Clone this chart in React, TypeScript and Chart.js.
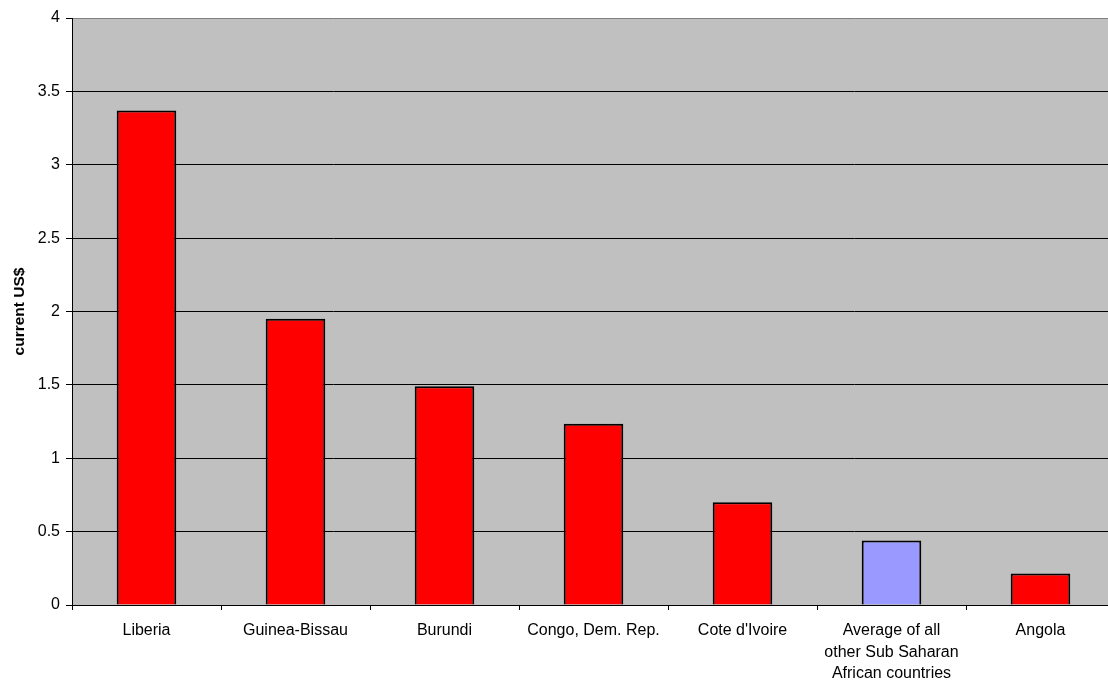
import React, { useEffect, useRef } from "react";
import { Chart, registerables } from "chart.js";

Chart.register(...registerables);

const categories: (string | string[])[] = [
  "Liberia",
  "Guinea-Bissau",
  "Burundi",
  "Congo, Dem. Rep.",
  "Cote d'Ivoire",
  ["Average of all", "other Sub Saharan", "African countries"],
  "Angola",
];
const values: number[] = [3.37, 1.95, 1.49, 1.235, 0.70, 0.44, 0.215];
const barColors: string[] = ["#FF0000", "#FF0000", "#FF0000", "#FF0000", "#FF0000", "#9999FF", "#FF0000"];
const yTickMin = 0;
const yTickMax = 4;
const yTickStep = 0.5;
const yTitle = "current US$";

const FONT = "Arial, 'Liberation Sans', sans-serif";
const CANVAS_W = 1120;
const CANVAS_H = 680;

const plotBg = {
  id: "plotBg",
  beforeDraw(chart: any) {
    const { ctx, chartArea } = chart;
    if (!chartArea) return;
    ctx.save();
    ctx.fillStyle = "#C0C0C0";
    ctx.fillRect(chartArea.left, chartArea.top, chartArea.right - chartArea.left, chartArea.bottom - chartArea.top);
    ctx.restore();
  },
};

export default function App() {
  const ref = useRef<HTMLCanvasElement | null>(null);
  useEffect(() => {
    if (!ref.current) return;
    const chart = new Chart(ref.current, {
      type: "bar",
      data: {
        labels: categories,
        datasets: [
          {
            data: values,
            backgroundColor: barColors,
            borderColor: "#000000",
            borderWidth: 2,
            barPercentage: 0.4,
            categoryPercentage: 1,
          },
        ],
      },
      options: {
        animation: false,
        responsive: false,
        devicePixelRatio: 1,
        layout: { padding: { top: 18, right: CANVAS_W - 1115, left: 0, bottom: 0 } },
        plugins: { legend: { display: false }, tooltip: { enabled: false } },
        scales: {
          x: {
            grid: { drawOnChartArea: false, drawTicks: true, tickLength: 5, offset: true, color: "#000000" },
            border: { color: "#000000", width: 1 },
            ticks: {
              color: "#000000",
              font: { family: FONT, size: 16, lineHeight: 1.34 },
              padding: 10,
              maxRotation: 0,
              autoSkip: false,
            },
            afterFit(scale: any) {
              scale.height = CANVAS_H - 605;
            },
          },
          y: {
            min: yTickMin,
            max: yTickMax,
            grid: {
              color: (ctx: any) => (ctx.tick && ctx.tick.value === yTickMax ? "#808080" : "#000000"),
              tickColor: "#000000",
              tickLength: 6,
              lineWidth: 1,
            },
            border: { color: "#000000", width: 1 },
            ticks: {
              stepSize: yTickStep,
              color: "#000000",
              font: { family: FONT, size: 16 },
              padding: 6,
              callback: (v: any) => String(v),
            },
            title: {
              display: true,
              text: yTitle,
              color: "#000000",
              font: { family: FONT, size: 15.5, weight: "bold" },
              padding: { top: 10, bottom: 0 },
            },
            afterFit(scale: any) {
              scale.width = 72;
            },
          },
        },
      },
      plugins: [plotBg],
    });
    return () => chart.destroy();
  }, []);
  return (
    <div style={{ position: "fixed", left: 0, top: 0, width: 1108, height: 680, overflow: "hidden", background: "#fff" }}>
      <canvas ref={ref} width={CANVAS_W} height={CANVAS_H} style={{ width: CANVAS_W, height: CANVAS_H, display: "block" }} />
    </div>
  );
}
